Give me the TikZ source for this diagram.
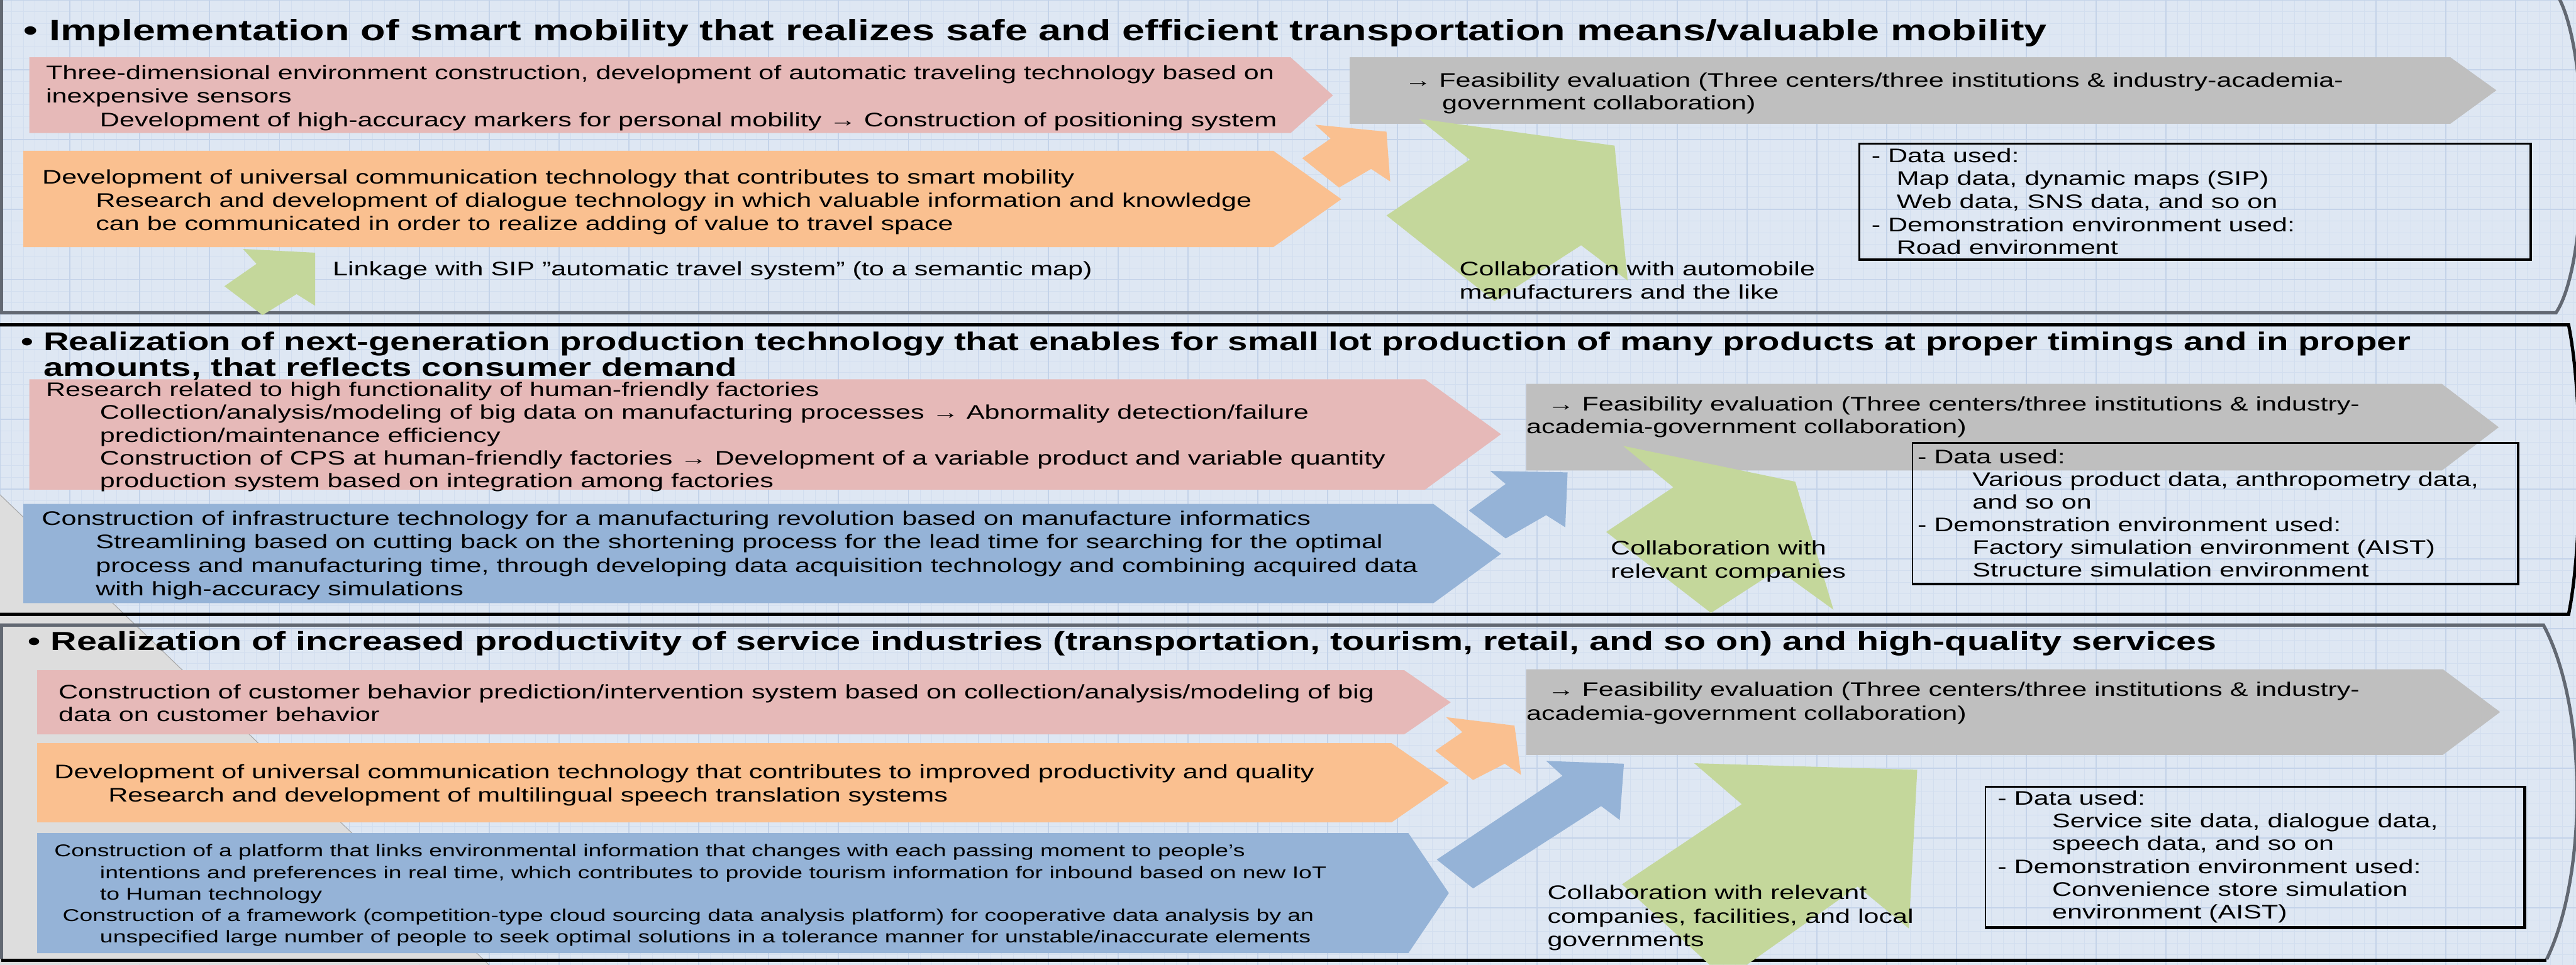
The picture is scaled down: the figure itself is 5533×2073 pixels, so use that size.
\documentclass[tikz,border=0pt]{standalone}
\usepackage{fontspec}
\setmainfont[FakeStretch=1.38]{Liberation Sans}
\usetikzlibrary{positioning}
% Colores
\definecolor{fondo}{RGB}{222,231,243}
\definecolor{rejilla}{RGB}{210,222,239}
\definecolor{rejillab}{RGB}{196,211,233}
\definecolor{rosa}{RGB}{230,185,184}
\definecolor{naranja}{RGB}{250,192,144}
\definecolor{azul}{RGB}{149,179,215}
\definecolor{gris}{RGB}{191,191,191}
\definecolor{verde}{RGB}{196,215,155}
\definecolor{grisclaro}{RGB}{221,221,221}
\definecolor{borde}{RGB}{98,104,114}
% los textos de varias lineas se colocan por la linea base de la ultima linea
\tikzset{
  texto/.style={anchor=base west, inner sep=0pt, align=left,
    font=\fontsize{12}{14.37}\selectfont},
  chico/.style={texto, font=\fontsize{10.4}{13.16}\selectfont},
  titulo/.style={anchor=base west, inner sep=0pt, align=left,
    font=\bfseries\fontsize{15.7}{13.4}\selectfont},
  caja/.style={draw, line width=0.9pt, anchor=north west, inner sep=0pt},
  marco/.style={line width=2pt}
}

\begin{document}
\begin{tikzpicture}[x=0.01cm, y=-0.01cm]
\useasboundingbox (0,0) rectangle (5533,2073);
\clip (0,0) rectangle (5533,2073);
% Fondo cuadriculado
\fill[fondo] (0,0) rectangle (5533,2073);
\draw[rejilla, line width=0.3pt, step=0.25cm] (0,0) grid (5533,2073);
\draw[rejillab, line width=0.7pt, step=1.5cm] (0,0) grid (5533,2073);
\fill[grisclaro] (0,1063) -- (1050,2073) -- (0,2073) -- cycle;
\draw[gray!70, line width=0.4pt] (0,1063) -- (1050,2073);

% Marcos de los tres bloques
\draw[marco, borde] (3,-20) -- (3,672) -- (5490,672) .. controls (5565,560) and (5565,100) .. (5490,-15);
\draw[marco, black] (-10,698) -- (5517,698) .. controls (5548,850) and (5548,1170) .. (5517,1320) -- (-10,1320);
\draw[marco, borde] (5470,2061) .. controls (5558,1880) and (5558,1520) .. (5463,1343) -- (3,1343) -- (3,2061);
\draw[marco, black] (3,2063) -- (5470,2063);

% Bloque 1: flechas
\fill[rosa] (63,123) -- (2772,123) -- (2863,205) -- (2772,286) -- (63,286) -- cycle;
\fill[naranja] (50,324) -- (2735,324) -- (2881,428) -- (2735,531) -- (50,531) -- cycle;
\fill[gris] (2899,123) -- (5263,123) -- (5362,194) -- (5263,266) -- (2899,266) -- cycle;
\fill[naranja] (2825,268) -- (2978,283) -- (2986,390) -- (2945,363) -- (2876,403) -- (2797,340) -- (2858,298) -- cycle;
\fill[verde] (522,535) -- (677,543) -- (677,657) -- (637,632) -- (564,677) -- (482,615) -- (551,567) -- cycle;
\fill[verde] (3047,255) -- (3468,313) -- (3496,603) -- (3396,527) -- (3210,647) -- (2978,463) -- (3157,343) -- cycle;

% Bloque 2: flechas
\fill[rosa] (63,815) -- (3061,815) -- (3224,933) -- (3061,1052) -- (63,1052) -- cycle;
\fill[azul] (50,1083) -- (3079,1083) -- (3224,1190) -- (3079,1296) -- (50,1296) -- cycle;
\fill[gris] (3278,825) -- (5245,825) -- (5367,918) -- (5245,1011) -- (3278,1011) -- cycle;
\fill[azul] (3201,1012) -- (3367,1015) -- (3362,1133) -- (3321,1107) -- (3234,1157) -- (3155,1097) -- (3234,1040) -- cycle;
\fill[verde] (3486,958) -- (3856,1035) -- (3938,1310) -- (3819,1224) -- (3675,1317) -- (3450,1143) -- (3594,1047) -- cycle;

% Bloque 3: flechas
\fill[rosa] (80,1440) -- (3016,1440) -- (3116,1509) -- (3016,1578) -- (80,1578) -- cycle;
\fill[naranja] (80,1597) -- (2989,1597) -- (3112,1682) -- (2989,1767) -- (80,1767) -- cycle;
\fill[azul] (80,1790) -- (3025,1790) -- (3112,1919) -- (3025,2048) -- (80,2048) -- cycle;
\fill[gris] (3278,1438) -- (5247,1438) -- (5370,1530) -- (5247,1622) -- (3278,1622) -- cycle;
\fill[naranja] (3106,1541) -- (3253,1559) -- (3267,1665) -- (3232,1641) -- (3164,1676) -- (3083,1613) -- (3141,1573) -- cycle;
\fill[azul] (3321,1635) -- (3488,1641) -- (3479,1762) -- (3439,1732) -- (3164,1909) -- (3086,1847) -- (3356,1667) -- cycle;
\fill[verde] (3639,1640) -- (4118,1654) -- (4100,1995) -- (3990,1905) -- (3752,2073) -- (3672,2073) -- (3484,1900) -- (3741,1728) -- cycle;

% Cajas de datos
\node (caja1) [caja, minimum width=14.4cm, minimum height=2.48cm] at (3992,307) {};
\node (caja2) [caja, minimum width=12.99cm, minimum height=3.02cm] at (4106,950) {};
\node (caja3) [caja, minimum width=11.56cm, minimum height=3.01cm] at (4263,1689) {};
\foreach \i in {1,2,3}{ \draw[line width=1.6pt] (caja\i.north east) -- (caja\i.south east) -- (caja\i.south west); }

% Textos del bloque 1
\node (tit1) [titulo, font=\bfseries\fontsize{18}{15}\selectfont] at (50,87) {\textbullet\ Implementation of smart mobility that realizes safe and efficient transportation means/valuable mobility};
\node (rosa1) [texto] at (98,272) {Three-dimensional environment construction, development of automatic traveling technology based on\\inexpensive sensors\\\hspace*{1.16cm}Development of high-accuracy markers for personal mobility {\bfseries →} Construction of positioning system};
\node (naranja1) [texto, font=\fontsize{12}{14.22}\selectfont] at (90,495) {Development of universal communication technology that contributes to smart mobility\\\hspace*{1.15cm}Research and development of dialogue technology in which valuable information and knowledge\\\hspace*{1.15cm}can be communicated in order to realize adding of value to travel space};
\node (enlace1) [texto] at (714,593) {Linkage with SIP "automatic travel system" (to a semantic map)};
\node (gris1) [texto, font=\fontsize{12}{13.95}\selectfont] at (3016,236) {{\bfseries →} Feasibility evaluation (Three centers/three institutions \& industry-academia-\\\hspace*{0.81cm}government collaboration)};
\node (colab1) [texto, font=\fontsize{12}{13.95}\selectfont] at (3134,642) {Collaboration with automobile\\manufacturers and the like};
\node (datos1) [texto, anchor=west, font=\fontsize{12}{14.1}\selectfont, right=0.27cm of caja1.west] {- Data used:\\\hspace*{0.54cm}Map data, dynamic maps (SIP)\\\hspace*{0.54cm}Web data, SNS data, and so on\\- Demonstration environment used:\\\hspace*{0.54cm}Road environment};

% Textos del bloque 2
\node (tit2) [titulo] at (45,808) {\textbullet\ Realization of next-generation production technology that enables for small lot production of many products at proper timings and in proper\\\phantom{\textbullet\ }amounts, that reflects consumer demand};
\node (rosa2) [texto, font=\fontsize{12}{13.95}\selectfont] at (98,1048) {Research related to high functionality of human-friendly factories\\\hspace*{1.16cm}Collection/analysis/modeling of big data on manufacturing processes {\bfseries →} Abnormality detection/failure\\\hspace*{1.16cm}prediction/maintenance efficiency\\\hspace*{1.16cm}Construction of CPS at human-friendly factories {\bfseries →} Development of a variable product and variable quantity\\\hspace*{1.16cm}production system based on integration among factories};
\node (azul2) [texto] at (89,1280) {Construction of infrastructure technology for a manufacturing revolution based on manufacture informatics\\\hspace*{1.16cm}Streamlining based on cutting back on the shortening process for the lead time for searching for the optimal\\\hspace*{1.16cm}process and manufacturing time, through developing data acquisition technology and combining acquired data\\\hspace*{1.16cm}with high-accuracy simulations};
\node (gris2) [texto, font=\fontsize{12}{13.7}\selectfont] at (3278,931) {\hspace*{0.45cm}{\bfseries →} Feasibility evaluation (Three centers/three institutions \& industry-\\academia-government collaboration)};
\node (colab2) [texto, font=\fontsize{12}{14.22}\selectfont] at (3459,1242) {Collaboration with\\relevant companies};
\node (datos2) [texto, anchor=west, font=\fontsize{12}{13.9}\selectfont, right=0.12cm of caja2.west] {- Data used:\\\hspace*{1.18cm}Various product data, anthropometry data,\\\hspace*{1.18cm}and so on\\- Demonstration environment used:\\\hspace*{1.18cm}Factory simulation environment (AIST)\\\hspace*{1.18cm}Structure simulation environment};

% Textos del bloque 3
\node (tit3) [titulo, font=\bfseries\fontsize{16}{15}\selectfont] at (60,1398) {\textbullet\ Realization of increased productivity of service industries (transportation, tourism, retail, and so on) and high-quality services};
\node (rosa3) [texto, font=\fontsize{12}{13.95}\selectfont] at (125,1550) {Construction of customer behavior prediction/intervention system based on collection/analysis/modeling of big\\data on customer behavior};
\node (naranja3) [texto] at (116,1723) {Development of universal communication technology that contributes to improved productivity and quality\\\hspace*{1.16cm}Research and development of multilingual speech translation systems};
\node (azul3) [chico] at (116,2026) {Construction of a platform that links environmental information that changes with each passing moment to people's\\\hspace*{0.98cm}intentions and preferences in real time, which contributes to provide tourism information for inbound based on new IoT\\\hspace*{0.98cm}to Human technology\\\hspace*{0.18cm}Construction of a framework (competition-type cloud sourcing data analysis platform) for cooperative data analysis by an\\\hspace*{0.98cm}unspecified large number of people to seek optimal solutions in a tolerance manner for unstable/inaccurate elements};
\node (gris3) [texto] at (3278,1547) {\hspace*{0.45cm}{\bfseries →} Feasibility evaluation (Three centers/three institutions \& industry-\\academia-government collaboration)};
\node (colab3) [texto] at (3323,2034) {Collaboration with relevant\\companies, facilities, and local\\governments};
\node (datos3) [texto, anchor=west, font=\fontsize{12}{13.95}\selectfont, right=0.27cm of caja3.west] {- Data used:\\\hspace*{1.17cm}Service site data, dialogue data,\\\hspace*{1.17cm}speech data, and so on\\- Demonstration environment used:\\\hspace*{1.17cm}Convenience store simulation\\\hspace*{1.17cm}environment (AIST)};
\end{tikzpicture}
\end{document}
